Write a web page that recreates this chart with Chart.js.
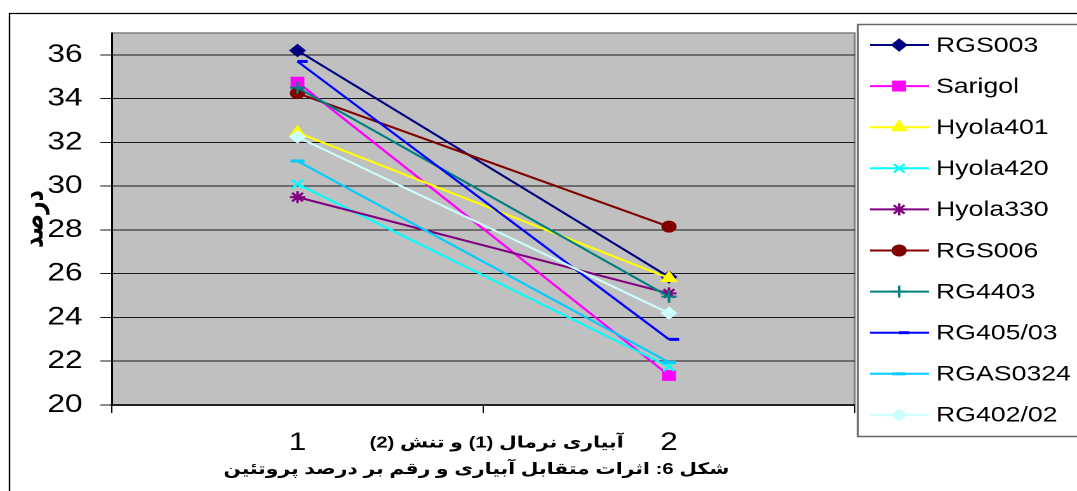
<!DOCTYPE html>
<html>
<head>
<meta charset="utf-8">
<script src="https://cdn.jsdelivr.net/npm/chart.js@4/dist/chart.umd.min.js"></script>
<style>
  html, body { margin: 0; padding: 0; background: #fff; overflow: hidden; }
  /* the chart is laid out at 848px and widened to fill the 1077px page */
  #wrap { position: absolute; left: 0; top: 0; width: 848px; height: 491px;
          transform: scaleX(1.27); transform-origin: 0 0; }
  canvas { display: block; }
</style>
</head>
<body>
<div id="wrap"><canvas id="c" width="848" height="491"></canvas></div>
<script>
// irrigation level: 1 = normal, 2 = stress
const categories = ['1', '2'];
const yTicks = [20, 22, 24, 26, 28, 30, 32, 34, 36];

// protein percentage per cultivar
const RGS003   = [36.2, 25.85];
const Sarigol  = [34.75, 21.35];
const Hyola401 = [32.45, 25.8];
const Hyola420 = [30.1, 21.75];
const Hyola330 = [29.5, 25.1];
const RGS006   = [34.25, 28.15];
const RG4403   = [34.5, 24.95];
const RG405_03 = [35.7, 23.0];
const RGAS0324 = [31.15, 21.95];
const RG402_02 = [32.25, 24.2];

const seriesNames  = ['RGS003', 'Sarigol', 'Hyola401', 'Hyola420', 'Hyola330',
                      'RGS006', 'RG4403', 'RG405/03', 'RGAS0324', 'RG402/02'];
const seriesValues = [RGS003, Sarigol, Hyola401, Hyola420, Hyola330,
                      RGS006, RG4403, RG405_03, RGAS0324, RG402_02];

const yTitle = 'درصد';
const xTitle = 'آبیاری نرمال (1) و تنش (2)';
const caption = 'شکل 6: اثرات متقابل آبیاری و رقم بر درصد پروتئین';

// styling
const seriesColors = ['#000080', '#FF00FF', '#FFFF00', '#00FFFF', '#800080',
                      '#800000', '#008080', '#0000FF', '#00CCFF', '#CCFFFF'];
const markerStyles = ['rectRot', 'rect', 'triangle', 'crossRot', 'star',
                      'circle', 'cross', 'dash', 'line', 'rectRot'];
const markerRadii  = [6, 7, 7, 6, 6, 5.5, 6, 8, 5.5, 6];
const markerWidths = [1, 1, 1, 2, 2, 1, 2, 3, 3, 1];

const LATIN = '"Liberation Sans", Arial, sans-serif';
const PERSIAN = '"Liberation Sans", "DejaVu Sans", sans-serif';

const datasets = seriesNames.map((name, i) => ({
  label: name,
  data: seriesValues[i],
  borderColor: seriesColors[i],
  backgroundColor: seriesColors[i],
  pointBackgroundColor: seriesColors[i],
  pointBorderColor: seriesColors[i],
  pointStyle: markerStyles[i],
  pointRadius: markerRadii[i],
  pointBorderWidth: markerWidths[i],
  borderWidth: 2,
  tension: 0,
  fill: false,
  order: seriesNames.length - i
}));

// white page, outer frame and grey plot area
const frame = {
  id: 'frame',
  beforeDraw(chart) {
    const ctx = chart.ctx, a = chart.chartArea;
    ctx.save();
    ctx.fillStyle = '#fff';
    ctx.fillRect(0, 0, chart.width, chart.height);
    ctx.strokeStyle = '#000';
    ctx.lineWidth = 1.2;
    ctx.beginPath();
    ctx.moveTo(7.5, chart.height + 5);
    ctx.lineTo(7.5, 13.5);
    ctx.lineTo(chart.width + 5, 13.5);
    ctx.stroke();
    ctx.fillStyle = '#C0C0C0';
    ctx.fillRect(a.left, a.top, a.right - a.left, a.bottom - a.top);
    ctx.strokeStyle = '#808080';
    ctx.lineWidth = 1.5;
    ctx.beginPath();
    ctx.moveTo(a.left, a.top);
    ctx.lineTo(a.right, a.top);
    ctx.lineTo(a.right, a.bottom);
    ctx.stroke();
    ctx.restore();
  }
};

// boxed legend with line + marker samples, axis title and figure caption
const legendAndText = {
  id: 'legendAndText',
  afterDraw(chart) {
    const ctx = chart.ctx;
    ctx.save();
    const L = 675.5, T = 24.5, B = 436.5;
    ctx.fillStyle = '#fff';
    ctx.fillRect(L, T, 400, B - T);
    ctx.strokeStyle = '#666';
    ctx.lineWidth = 1.5;
    ctx.strokeRect(L, T, 400, B - T);
    ctx.font = '21px ' + LATIN;
    ctx.textBaseline = 'middle';
    ctx.textAlign = 'left';
    chart.data.datasets.forEach((ds, i) => {
      const y = 45 + i * 41.1;
      ctx.strokeStyle = ds.borderColor;
      ctx.lineWidth = 2;
      ctx.beginPath();
      ctx.moveTo(685, y);
      ctx.lineTo(731.5, y);
      ctx.stroke();
      ctx.fillStyle = ds.pointBackgroundColor;
      ctx.strokeStyle = ds.pointBorderColor;
      ctx.lineWidth = ds.pointBorderWidth;
      Chart.helpers.drawPoint(ctx, {
        pointStyle: ds.pointStyle, radius: ds.pointRadius,
        borderWidth: ds.pointBorderWidth, rotation: 0
      }, 708, y);
      ctx.fillStyle = '#000';
      ctx.fillText(ds.label, 737, y + 1);
    });

    // Persian texts, right-to-left
    ctx.direction = 'rtl';
    ctx.fillStyle = '#000';
    ctx.textAlign = 'center';
    ctx.textBaseline = 'middle';
    ctx.font = 'bold 16px ' + PERSIAN;
    ctx.fillText(xTitle, 391, 443);
    ctx.textBaseline = 'alphabetic';
    ctx.font = 'bold 16px ' + PERSIAN;
    ctx.fillText(caption, 375, 474);
    ctx.restore();
  }
};

new Chart(document.getElementById('c'), {
  type: 'line',
  data: { labels: categories, datasets },
  plugins: [frame, legendAndText],
  options: {
    responsive: false,
    devicePixelRatio: 2,
    animation: false,
    events: [],
    layout: { padding: { left: 0, top: 33, right: 175, bottom: 0 } },
    plugins: { legend: { display: false }, tooltip: { enabled: false } },
    scales: {
      x: {
        type: 'category',
        offset: true,
        afterFit: s => { s.height = 86; },
        grid: { drawOnChartArea: false, drawTicks: true, tickLength: 8, color: '#000', offset: true },
        border: { color: '#222', width: 2 },
        ticks: { font: { family: LATIN, size: 25 }, color: '#000', padding: 15 }
      },
      y: {
        min: 20,
        max: 37,
        afterBuildTicks: s => { s.ticks = yTicks.map(v => ({ value: v })); },
        afterFit: s => { s.width = 88; },
        grid: { color: '#1a1a1a', lineWidth: 1, tickLength: 9, drawTicks: true },
        border: { color: '#000', width: 1.5 },
        ticks: { font: { family: LATIN, size: 25 }, color: '#000', padding: 14 },
        title: {
          display: true, text: yTitle, color: '#000',
          font: { family: PERSIAN, size: 22, weight: 'bold' },
          padding: { top: 14, bottom: 0 }
        }
      }
    }
  }
});
</script>
</body>
</html>
